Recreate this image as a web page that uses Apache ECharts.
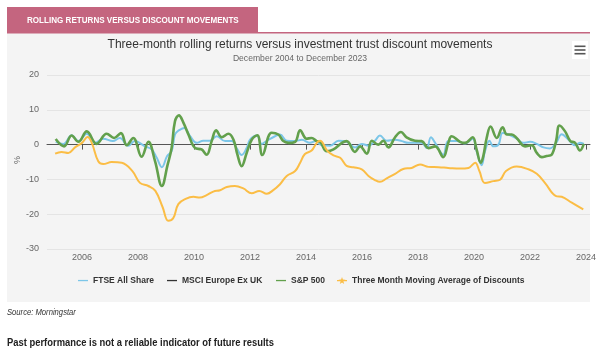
<!DOCTYPE html>
<html>
<head>
<meta charset="utf-8">
<script src="https://cdn.jsdelivr.net/npm/echarts@6/dist/echarts.min.js"></script>
<style>
html,body{margin:0;padding:0;background:#fff;}
#chart{width:600px;height:356px;}
</style>
</head>
<body>
<div id="chart"></div>
<script>
// ---- data (decimal year, % value) ----
var yearTicks = [2006, 2008, 2010, 2012, 2014, 2016, 2018, 2020, 2022, 2024];
var seriesNames = ['FTSE All Share', 'MSCI Europe Ex UK', 'S&P 500', 'Three Month Moving Average of Discounts'];

var ftseAllShare = [
[2005.06,0.8],[2005.33,0.2],[2005.63,2.7],[2005.87,1.0],[2006.17,3.1],[2006.46,0.5],[2006.76,1.7],[2007.1,1.0],[2007.35,1.9],[2007.65,-0.3],[2007.89,1.0],[2008.25,-0.5],[2008.49,-1.4],[2008.67,-3.8],[2008.85,-6.5],[2009.04,-3.3],[2009.2,-1.9],[2009.32,2.9],[2009.44,4.0],[2009.65,4.8],[2009.86,2.4],[2010.1,0.5],[2010.33,1.1],[2010.57,1.1],[2010.81,2.4],[2011.11,1.0],[2011.35,1.0],[2011.52,-1.0],[2011.7,-3.0],[2011.88,-1.0],[2012.0,1.4],[2012.24,2.6],[2012.42,0.2],[2012.6,1.1],[2012.89,2.4],[2013.07,2.9],[2013.31,1.1],[2013.61,1.0],[2013.85,1.4],[2014.14,0.5],[2014.35,1.0],[2014.56,-0.2],[2014.86,-0.3],[2015.16,1.1],[2015.45,0.8],[2015.75,-0.8],[2015.99,0.2],[2016.23,-0.3],[2016.46,1.1],[2016.64,2.6],[2016.88,1.1],[2017.18,1.4],[2017.42,1.0],[2017.65,0.5],[2017.89,0.5],[2018.13,0.5],[2018.31,-1.0],[2018.46,2.1],[2018.61,0.5],[2018.9,-2.9],[2019.08,1.0],[2019.38,1.0],[2019.68,0.3],[2019.95,1.7],[2020.09,-1.9],[2020.27,-5.9],[2020.39,-1.9],[2020.55,1.1],[2020.69,-0.5],[2020.87,0.0],[2021.02,3.3],[2021.23,2.9],[2021.52,1.7],[2021.76,0.5],[2022.0,0.8],[2022.24,0.2],[2022.48,-0.8],[2022.71,-1.1],[2022.93,0.5],[2023.13,3.0],[2023.37,1.4],[2023.61,-0.2],[2023.78,0.5],[2023.92,0.2]
];

var msciEuropeExUK = [];

var sp500 = [
[2005.06,1.6],[2005.36,-0.5],[2005.63,2.6],[2005.87,0.8],[2006.17,3.8],[2006.52,0.2],[2006.88,3.1],[2007.15,1.9],[2007.39,3.3],[2007.6,-0.2],[2007.83,1.9],[2008.13,-3.5],[2008.37,0.8],[2008.61,-4.8],[2008.85,-11.9],[2009.06,-5.7],[2009.2,-1.0],[2009.32,6.7],[2009.46,8.4],[2009.62,6.3],[2009.8,2.9],[2010.04,-1.0],[2010.27,-1.4],[2010.45,-2.9],[2010.63,1.0],[2010.79,4.1],[2010.99,2.1],[2011.23,3.1],[2011.41,1.4],[2011.55,-2.9],[2011.7,-6.2],[2011.88,-2.4],[2012.06,1.4],[2012.26,2.7],[2012.44,-3.0],[2012.77,3.4],[2013.01,2.9],[2013.19,1.0],[2013.37,0.5],[2013.61,0.8],[2013.79,4.1],[2014.02,1.7],[2014.2,1.9],[2014.38,1.0],[2014.5,0.8],[2014.74,-1.9],[2014.98,-1.4],[2015.28,0.5],[2015.45,1.0],[2015.75,-2.1],[2015.93,-0.5],[2016.17,-2.6],[2016.35,1.1],[2016.58,0.0],[2016.76,1.1],[2016.94,-0.8],[2017.18,2.1],[2017.39,3.6],[2017.59,2.1],[2017.89,1.1],[2018.13,1.0],[2018.37,-1.0],[2018.61,-0.5],[2018.9,-3.6],[2019.08,0.5],[2019.2,2.4],[2019.5,0.8],[2019.68,0.5],[2019.95,2.1],[2020.09,-1.4],[2020.24,-5.2],[2020.33,-3.3],[2020.45,1.9],[2020.59,5.2],[2020.81,1.9],[2021.02,5.0],[2021.17,2.9],[2021.35,2.9],[2021.52,1.9],[2021.82,-0.5],[2022.06,-0.2],[2022.24,-2.4],[2022.42,-3.6],[2022.59,-3.3],[2022.77,-2.9],[2022.93,1.1],[2023.05,5.5],[2023.25,3.8],[2023.43,1.1],[2023.61,0.5],[2023.78,-1.7],[2023.92,0.2]
];

var discountsMA = [
[2005.04,-2.6],[2005.27,-2.1],[2005.51,-2.4],[2005.75,-0.8],[2006.0,0.5],[2006.2,2.2],[2006.35,0.5],[2006.58,-4.8],[2006.76,-5.6],[2007.06,-5.0],[2007.42,-5.2],[2007.8,-7.6],[2008.07,-11.0],[2008.37,-11.9],[2008.62,-13.3],[2008.88,-18.0],[2009.08,-21.9],[2009.26,-21.1],[2009.44,-17.1],[2009.7,-15.6],[2009.98,-15.0],[2010.21,-15.2],[2010.45,-14.5],[2010.69,-13.5],[2010.93,-13.1],[2011.17,-12.2],[2011.46,-11.9],[2011.76,-12.6],[2012.06,-14.0],[2012.33,-13.3],[2012.6,-14.1],[2012.83,-13.1],[2013.07,-11.4],[2013.31,-9.0],[2013.61,-7.6],[2013.79,-5.2],[2013.96,-2.7],[2014.2,-1.7],[2014.38,0.5],[2014.5,1.1],[2014.76,-1.8],[2014.98,-3.1],[2015.22,-3.8],[2015.45,-6.1],[2015.69,-6.5],[2015.99,-7.1],[2016.23,-9.0],[2016.46,-10.2],[2016.64,-10.7],[2016.88,-9.7],[2017.18,-8.4],[2017.47,-7.0],[2017.77,-6.7],[2018.07,-5.7],[2018.37,-6.4],[2018.73,-6.5],[2019.08,-6.7],[2019.5,-6.9],[2019.8,-6.7],[2020.04,-5.2],[2020.19,-7.6],[2020.39,-11.0],[2020.69,-10.5],[2020.93,-10.1],[2021.14,-7.6],[2021.52,-6.3],[2021.94,-7.1],[2022.24,-8.4],[2022.53,-11.0],[2022.93,-14.8],[2023.13,-15.0],[2023.49,-16.7],[2023.9,-18.6]
];

// ---- chart ----
var sans = '"Liberation Sans", Arial, sans-serif';
var lineIcon = 'path://M0,0M10,8M0,3.4h10v1.3h-10z';
var starIcon = 'path://M0,0M10,8M0,3.4h10v1.3h-10zM5,0.6L5.9,3.1L8.5,3.2L6.4,4.8L7.2,7.4L5,5.9L2.8,7.4L3.6,4.8L1.5,3.2L4.1,3.1z';
var colors = ['#7cc6e8', '#333333', '#62a04c', '#fbbd45'];

var chart = echarts.init(document.getElementById('chart'), null, {renderer: 'canvas'});

function legendAt(i, left, icon) {
  return {
    data: [{name: seriesNames[i], icon: icon}],
    left: left, top: 276, padding: 0,
    itemWidth: 10, itemHeight: 8, itemGap: 5,
    selectedMode: false,
    textStyle: {fontFamily: sans, fontWeight: 'bold', fontSize: 8.5, color: '#333', padding: [0,0,0,0]}
  };
}

var option = {
  backgroundColor: '#ffffff',
  animation: false,
  graphic: [
    {type: 'rect', z: -10, shape: {x: 7, y: 33, width: 583, height: 269}, style: {fill: '#f4f4f4'}},
    {type: 'rect', z: -9, shape: {x: 7, y: 7, width: 251, height: 26}, style: {fill: '#c4657f'}},
    {type: 'rect', z: -9, shape: {x: 7, y: 32, width: 583, height: 1.5}, style: {fill: '#c4657f'}},
    {type: 'text', x: 27, y: 20, scaleX: 0.85, style: {text: 'ROLLING RETURNS VERSUS DISCOUNT MOVEMENTS', fill: '#ffffff', font: 'bold 9.5px ' + sans, textVerticalAlign: 'middle'}},
    {type: 'rect', shape: {x: 572, y: 41, width: 16, height: 18}, style: {fill: '#ffffff'}},
    {type: 'rect', shape: {x: 574.5, y: 45.5, width: 11, height: 1.6}, style: {fill: '#555'}},
    {type: 'rect', shape: {x: 574.5, y: 49.2, width: 11, height: 1.6}, style: {fill: '#555'}},
    {type: 'rect', shape: {x: 574.5, y: 52.9, width: 11, height: 1.6}, style: {fill: '#555'}},
    {type: 'text', x: 18, y: 160, rotation: Math.PI / 2, style: {text: '%', fill: '#666', font: '9px ' + sans, textAlign: 'center', textVerticalAlign: 'middle'}},
    {type: 'text', x: 7, y: 313, scaleX: 0.9, style: {text: 'Source: Morningstar', fill: '#333', font: 'italic 8.5px ' + sans, textVerticalAlign: 'middle'}},
    {type: 'text', x: 7, y: 343, scaleX: 0.94, style: {text: 'Past performance is not a reliable indicator of future results', fill: '#222', font: 'bold 10px ' + sans, textVerticalAlign: 'middle'}}
  ],
  title: {
    text: 'Three-month rolling returns versus investment trust discount movements',
    subtext: 'December 2004 to December 2023',
    left: 'center', top: 39, padding: 0, itemGap: 3,
    textStyle: {fontFamily: sans, fontWeight: 'normal', fontSize: 12, color: '#333'},
    subtextStyle: {fontFamily: sans, fontSize: 8.6, color: '#666'}
  },
  legend: [
    legendAt(0, 78, lineIcon),
    legendAt(1, 167, lineIcon),
    legendAt(2, 276, lineIcon),
    legendAt(3, 337, starIcon)
  ],
  grid: {left: 47, right: 10, top: 75, bottom: 107, containLabel: false},
  xAxis: {
    type: 'value', min: 2004.75, max: 2024.14,
    splitLine: {show: false},
    axisLine: {show: true, lineStyle: {color: '#555', width: 1}},
    axisTick: {show: true, customValues: yearTicks, length: 5, lineStyle: {color: '#555'}},
    axisLabel: {customValues: yearTicks, margin: 4, fontSize: 9, fontFamily: sans, color: '#666', formatter: function (v) { return String(v); }}
  },
  yAxis: {
    type: 'value', min: -30, max: 20, interval: 10,
    axisLine: {show: false}, axisTick: {show: false},
    splitLine: {lineStyle: {color: '#e4e4e4', width: 1}},
    axisLabel: {margin: 8, fontSize: 9, fontFamily: sans, color: '#666'}
  },
  series: [
    {name: seriesNames[0], type: 'line', data: ftseAllShare, showSymbol: false, smooth: 0.4, z: 2,
     lineStyle: {color: colors[0], width: 2}, itemStyle: {color: colors[0]}},
    {name: seriesNames[1], type: 'line', data: msciEuropeExUK, showSymbol: false, smooth: 0.4, z: 2,
     lineStyle: {color: colors[1], width: 2}, itemStyle: {color: colors[1]}},
    {name: seriesNames[2], type: 'line', data: sp500, showSymbol: false, smooth: 0.4, z: 3,
     lineStyle: {color: colors[2], width: 2.6}, itemStyle: {color: colors[2]}},
    {name: seriesNames[3], type: 'line', data: discountsMA, showSymbol: false, smooth: 0.4, z: 4,
     lineStyle: {color: colors[3], width: 2}, itemStyle: {color: colors[3]}}
  ]
};
chart.setOption(option);
</script>
</body>
</html>
